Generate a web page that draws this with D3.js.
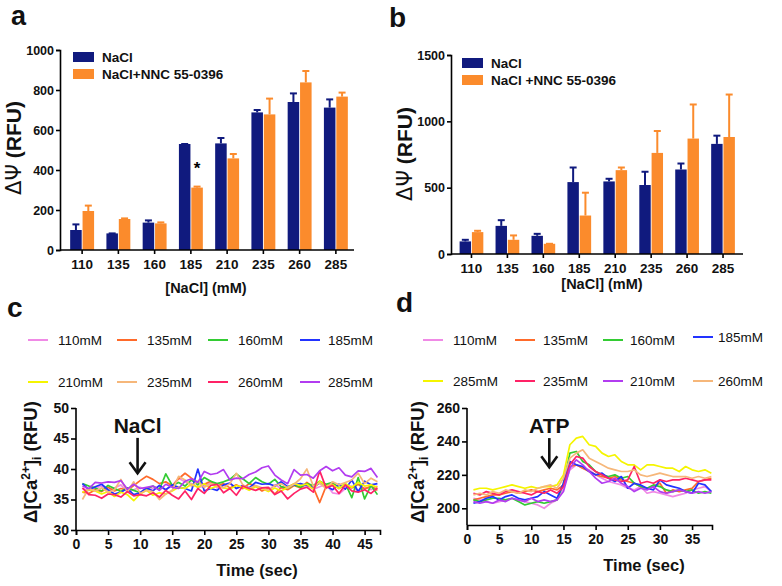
<!DOCTYPE html>
<html><head><meta charset="utf-8">
<script src="https://cdn.jsdelivr.net/npm/d3@7"></script>
<style>
body{margin:0;background:#fff;}
svg{display:block;font-family:"Liberation Sans",Arial,sans-serif;}
</style></head>
<body><svg id="c" width="782" height="586"></svg>
<script>
// ---------- DATA ----------
const categories = ["110","135","160","185","210","235","260","285"];
const seriesNames = ["NaCl","NaCl+NNC 55-0396"];
const seriesNamesB = ["NaCl","NaCl +NNC 55-0396"];
// panel a
const aNaCl     = [100, 83, 137, 530, 533, 688, 740, 712];
const aNaClErr  = [28, 0, 11, 0, 27, 12, 43, 41];
const aNNC      = [195, 155, 133, 312, 458, 678, 838, 767];
const aNNCErr   = [27, 3, 5, 5, 22, 79, 57, 20];
const aTicks = [0, 200, 400, 600, 800, 1000];
// panel b
const bNaCl     = [95, 212, 137, 542, 547, 520, 637, 830];
const bNaClErr  = [12, 43, 15, 110, 20, 100, 45, 62];
const bNNC      = [165, 107, 77, 290, 632, 762, 870, 882];
const bNNCErr   = [10, 33, 0, 172, 20, 165, 257, 320];
const bTicks = [0, 500, 1000, 1500];
// panel c (time 1..47 s)
const cLabels = ["110mM","135mM","160mM","185mM","210mM","235mM","260mM","285mM"];
const cColors = ["#f08ae6","#ff6a2a","#33cc33","#2233ff","#f5f500","#f6b77a","#ff2266","#b23cf0"];
const c110 = [36.8,36.5,36.9,37.2,36.4,36.9,37.4,36.2,36.6,37.0,36.5,36.8,37.1,36.6,37.3,38.5,37.9,37.6,37.0,37.2,37.8,36.9,37.3,37.6,36.9,37.1,36.6,37.2,36.8,36.5,37.4,36.8,37.0,37.6,36.9,37.3,36.7,37.1,37.5,36.1,35.9,36.8,37.2,36.4,37.0,36.6,37.2];
const c135 = [36.2,36.0,36.6,36.3,37.0,36.4,36.8,36.5,37.3,38.1,38.8,38.3,37.6,37.9,37.2,38.4,39.3,38.5,37.8,37.5,38.0,37.2,37.6,36.9,37.4,36.8,37.6,37.2,36.4,36.9,35.9,37.0,36.6,37.3,36.9,37.8,37.0,34.5,37.2,37.6,36.8,37.3,36.9,37.5,36.7,37.2,36.5];
const c160 = [37.6,37.2,36.9,36.4,37.3,36.8,36.3,36.9,36.5,36.1,36.7,37.2,36.6,39.2,37.3,37.8,37.2,38.2,37.4,38.6,38.0,37.6,37.9,38.3,39.2,38.4,37.6,38.6,37.9,37.5,38.3,37.1,36.9,37.4,37.0,37.6,37.3,38.0,37.5,37.8,36.9,37.6,35.3,38.6,35.1,37.3,35.8];
const c185 = [37.6,36.6,37.1,37.5,36.6,35.9,36.2,36.8,35.8,36.1,36.9,36.4,37.3,36.6,37.4,37.0,36.8,36.4,40.0,36.4,36.8,36.5,37.4,37.7,36.8,37.3,36.9,37.8,37.5,37.6,37.2,37.9,37.1,37.4,37.6,37.3,37.0,37.7,37.2,36.6,37.5,36.7,38.2,36.3,38.0,37.4,37.6];
const c210 = [36.2,36.6,36.4,35.9,36.3,35.5,36.2,35.8,34.8,35.9,36.5,35.7,36.1,35.9,36.4,37.0,36.8,37.5,37.0,37.6,36.8,37.2,36.9,36.7,37.3,37.0,36.5,37.1,36.8,36.3,36.9,36.4,37.0,37.6,37.3,37.5,36.7,38.0,37.2,37.4,36.8,37.6,37.0,37.8,37.2,37.4,37.0];
const c235 = [35.0,36.8,36.4,36.9,36.2,36.6,38.3,36.2,37.9,36.0,36.5,36.3,35.0,35.9,36.5,38.8,38.2,37.2,38.0,37.0,37.6,37.3,36.9,37.6,39.3,37.4,36.8,37.3,36.9,36.5,37.3,37.6,36.9,37.5,38.4,40.0,37.2,37.7,36.8,37.9,37.4,37.8,38.2,39.3,37.6,38.5,37.9];
const c260 = [36.9,35.8,35.7,35.2,35.9,35.8,35.4,36.3,35.6,35.8,35.6,36.1,35.4,36.5,35.7,35.1,36.4,35.0,36.8,36.0,37.3,37.5,36.1,36.8,35.7,37.2,36.8,36.5,36.9,37.0,35.8,36.4,35.1,36.0,36.7,37.0,36.2,39.7,36.9,37.3,36.0,37.4,36.4,36.2,36.6,36.0,36.9];
const c285 = [37.2,36.8,37.8,37.7,37.9,37.8,38.1,36.7,37.5,36.8,37.0,37.2,36.5,37.5,37.0,36.8,38.0,38.4,37.8,39.6,39.1,39.3,39.9,38.2,38.5,38.4,39.1,39.5,40.2,40.5,39.0,38.2,37.6,39.9,39.0,39.1,38.5,39.7,40.4,39.7,40.2,39.0,38.7,39.7,39.6,40.1,38.6];
const cSeries = [c110,c135,c160,c185,c210,c235,c260,c285];
const cYTicks = [30,35,40,45,50];
const cXTicks = [0,5,10,15,20,25,30,35,40,45];
const cArrow = {label:"NaCl", t:9.6, from:45.1, to:39.3};
// panel d (time 1..38 s)
const dLabels = ["110mM","135mM","160mM","185mM","285mM","235mM","210mM","260mM"];
const dColors = ["#f08ae6","#ff6a2a","#33cc33","#2233ff","#f5f500","#ff2266","#b23cf0","#f6b77a"];
const d110 = [206,205,204,203,204,205,206,205,204,203,202,200,203,205,212,223,226,224,223,220,218,216,215,214,212,211,213,209,210,209,208,207,208,209,211,212,213,210];
const d135 = [205,206,207,208,208,209,210,209,210,211,210,211,212,211,214,225,226,224,222,220,219,218,219,217,216,215,213,212,213,215,209,211,210,211,212,216,217,218];
const d160 = [205,204,205,206,206,205,206,204,202,203,204,203,204,205,215,233,234,228,226,222,220,219,220,218,219,215,213,212,214,213,211,210,211,210,211,209,210,209];
const d185 = [203,204,206,207,205,207,208,206,205,206,207,210,208,206,215,228,226,225,222,220,221,218,216,219,212,215,214,212,211,217,214,213,212,210,209,215,214,210];
const d285 = [211,212,212,211,212,213,214,213,212,213,212,213,213,214,220,238,242,243,238,237,233,231,232,228,226,226,223,226,226,225,224,224,222,225,223,222,223,221];
const d235 = [209,208,210,209,208,210,211,210,209,208,210,209,211,209,213,226,231,230,225,222,220,218,217,216,217,225,215,216,215,217,216,217,217,218,217,216,217,217];
const d210 = [204,203,204,203,205,204,206,205,204,206,204,205,204,205,210,224,229,226,222,218,215,216,218,215,213,210,212,211,213,210,209,210,211,210,209,210,209,210];
const d260 = [208,209,208,210,209,211,210,209,211,210,212,213,214,212,218,230,233,235,230,228,226,224,223,222,222,223,220,219,220,221,220,219,219,219,218,219,218,219];
const dSeries = [d110,d135,d160,d185,d285,d235,d210,d260];
const dYTicks = [200,220,240,260];
const dXTicks = [0,5,10,15,20,25,30,35];
const dArrow = {label:"ATP", t:12.8, from:242, to:224.6};

// ---------- DRAW ----------
const svg = d3.select("#c");
const NAVY = "#101a7e", ORANGE = "#fb8b2c";
const FONT = "'Liberation Sans', Arial, sans-serif";

function styleAxis(g, size){
  g.selectAll("path.domain").attr("stroke","#000").attr("stroke-width",1.6);
  g.selectAll(".tick line").attr("stroke","#000").attr("stroke-width",1.6);
  g.selectAll(".tick text").attr("font-family",FONT).attr("font-weight","bold")
    .attr("font-size",size).attr("fill","#111");
}

function barPanel(opt){
  const {x0,x1,xr0,xr1,y0,y1,max,ticks,s1,e1,s2,e2,names,legend} = opt;
  const x = d3.scaleBand().domain(categories).range([xr0,xr1]).paddingInner(0.34).paddingOuter(0.17);
  const sub = d3.scaleBand().domain([0,1]).range([0,x.bandwidth()]).paddingInner(0.07);
  const y = d3.scaleLinear().domain([0,max]).range([y0,y1]);
  const g = svg.append("g");
  const series = [{v:s1,e:e1,c:NAVY},{v:s2,e:e2,c:ORANGE}];
  series.forEach((s,si)=>{
    const gg = g.append("g");
    gg.selectAll("line.eb").data(categories).join("line")
      .attr("x1",(d)=>x(d)+sub(si)+sub.bandwidth()/2).attr("x2",(d)=>x(d)+sub(si)+sub.bandwidth()/2)
      .attr("y1",(d,i)=>y(s.v[i])).attr("y2",(d,i)=>y(s.v[i]+s.e[i]))
      .attr("stroke",s.c).attr("stroke-width",2);
    gg.selectAll("line.cap").data(categories).join("line")
      .attr("x1",(d)=>x(d)+sub(si)+sub.bandwidth()/2-3.5).attr("x2",(d)=>x(d)+sub(si)+sub.bandwidth()/2+3.5)
      .attr("y1",(d,i)=>y(s.v[i]+s.e[i])).attr("y2",(d,i)=>y(s.v[i]+s.e[i]))
      .attr("stroke",s.c).attr("stroke-width",2);
    gg.selectAll("rect").data(categories).join("rect")
      .attr("x",d=>x(d)+sub(si)).attr("width",sub.bandwidth())
      .attr("y",(d,i)=>y(s.v[i])).attr("height",(d,i)=>y0-y(s.v[i]))
      .attr("fill",s.c);
  });
  const ya = g.append("g").attr("transform",`translate(${x0},0)`)
    .call(d3.axisLeft(y).tickValues(ticks).tickSize(4).tickPadding(2).tickFormat(d3.format("d")));
  styleAxis(ya,12.5);
  const xa = g.append("g").attr("transform",`translate(0,${y0})`)
    .call(d3.axisBottom(x).tickSize(4).tickPadding(5));
  xa.select("path.domain").attr("d",`M${x0},0H${x1}`);
  styleAxis(xa,13.5);
  names.forEach((n,i)=>{
    g.append("rect").attr("x",legend.x).attr("y",legend.y+i*17).attr("width",21).attr("height",10)
      .attr("fill",i?ORANGE:NAVY);
    g.append("text").attr("x",legend.x+29).attr("y",legend.y+i*17+10).text(n)
      .attr("font-family",FONT).attr("font-weight","bold").attr("font-size",13.5).attr("fill","#111");
  });
  return {x,sub,y,g};
}

const A = barPanel({x0:60,x1:354,xr0:64,xr1:354,y0:250,y1:50,max:1000,ticks:aTicks,
  s1:aNaCl,e1:aNaClErr,s2:aNNC,e2:aNNCErr,names:seriesNames,legend:{x:73,y:52}});
A.g.append("text").attr("x",A.x("185")+A.sub(1)+A.sub.bandwidth()/2)
  .attr("y",A.y(aNNC[3]+aNNCErr[3])-13).attr("text-anchor","middle").text("*")
  .attr("font-family",FONT).attr("font-weight","bold").attr("font-size",17);
barPanel({x0:451,x1:743,xr0:453.5,xr1:741,y0:254,y1:55,max:1500,ticks:bTicks,
  s1:bNaCl,e1:bNaClErr,s2:bNNC,e2:bNNCErr,names:seriesNamesB,legend:{x:462,y:58}});

function text(x,y,t,size,opts={}){
  const el = svg.append("text").attr("x",x).attr("y",y).text(t)
    .attr("font-family",FONT).attr("font-weight",opts.weight||"bold").attr("font-size",size)
    .attr("text-anchor",opts.anchor||"middle").attr("fill","#111");
  return el;
}
text(206,293,"[NaCl] (mM)",14.5);
text(602,289,"[NaCl] (mM)",14.5);
function psiTitle(cx,cy){
  const t = svg.append("text").attr("transform",`translate(${cx},${cy}) rotate(-90)`)
    .attr("text-anchor","middle").attr("font-family",FONT).attr("font-weight","bold")
    .attr("font-size",21).attr("fill","#111");
  t.append("tspan").attr("font-family","'DejaVu Sans'").attr("font-weight","normal").text("ΔΨ");
  t.append("tspan").text(" (RFU)");
}
psiTitle(21,148);
psiTitle(412,154);

text(11,25,"a",27,{anchor:"start"});
text(389,27,"b",28,{anchor:"start"});
text(7,317,"c",28,{anchor:"start"});
text(396,312,"d",28,{anchor:"start"});

function linePanel(opt){
  const {x0,x1,y0,y1,xmax,ymin,ymax,series,colors,labels,xt,yt,arrow,leg} = opt;
  const x = d3.scaleLinear().domain([0,xmax]).range([x0,x1]);
  const y = d3.scaleLinear().domain([ymin,ymax]).range([y0,y1]);
  const g = svg.append("g");
  const line = d3.line().x((d,i)=>x(i+1)).y(d=>y(d));
  series.forEach((s,i)=>{
    g.append("path").attr("d",line(s)).attr("fill","none").attr("stroke",colors[i])
      .attr("stroke-width",1.7).attr("stroke-linejoin","round");
  });
  const ya = g.append("g").attr("transform",`translate(${x0},0)`)
    .call(d3.axisLeft(y).tickValues(yt).tickSize(5).tickPadding(2));
  ya.select("path.domain").attr("d",`M0,${y0}V${y1}`);
  styleAxis(ya,14);
  const xa = g.append("g").attr("transform",`translate(0,${y0})`)
    .call(d3.axisBottom(x).tickValues(xt).tickSize(5).tickPadding(4));
  styleAxis(xa,14);
  const ax = x(arrow.t), ay1 = y(arrow.from), ay2 = y(arrow.to);
  g.append("line").attr("x1",ax).attr("x2",ax).attr("y1",ay1).attr("y2",ay2-1)
    .attr("stroke","#111").attr("stroke-width",2.6);
  g.append("path").attr("d",`M${ax-8},${ay2-11}L${ax},${ay2}L${ax+8},${ay2-11}`)
    .attr("fill","none").attr("stroke","#111").attr("stroke-width",2.6);
  text(ax,ay1-5,arrow.label,21);
  labels.forEach((l,i)=>{
    const col = i%4, row = Math.floor(i/4);
    const lx = leg.lx[col], ly = leg.ly[row] + (leg.dy ? leg.dy[i] : 0);
    g.append("line").attr("x1",lx).attr("x2",lx+20).attr("y1",ly).attr("y2",ly)
      .attr("stroke",colors[i]).attr("stroke-width",2);
    text(leg.tx[col],ly+5,l,13.5,{anchor:"start",weight:"normal"});
  });
  return {x,y};
}
linePanel({x0:76,x1:380,y0:530,y1:408,xmax:47.4,ymin:30,ymax:50,series:cSeries,colors:cColors,
  labels:cLabels,xt:cXTicks,yt:cYTicks,arrow:cArrow,
  leg:{lx:[28,117,208,300],tx:[58,147,238,328],ly:[340,382]}});
linePanel({x0:467,x1:712,y0:525,y1:408,xmax:38.1,ymin:190,ymax:260,series:dSeries,colors:dColors,
  labels:dLabels,xt:dXTicks,yt:dYTicks,arrow:dArrow,
  leg:{lx:[423,515,603,693],tx:[453,543,630,718],ly:[340,381],dy:[0,0,0,-3,0,0,0,0]}});

text(257,576,"Time (sec)",16.5);
text(644,571,"Time (sec)",16.5);
function caTitle(cx,cy){
  const t = svg.append("text").attr("transform",`translate(${cx},${cy}) rotate(-90)`)
    .attr("text-anchor","middle").attr("font-family",FONT).attr("font-weight","bold")
    .attr("font-size",18.5).attr("fill","#111");
  t.append("tspan").text("Δ[Ca");
  t.append("tspan").attr("font-size",12).attr("dy",-7).text("2+");
  t.append("tspan").attr("dy",7).text("]");
  t.append("tspan").attr("font-size",12).attr("dy",4).text("i");
  t.append("tspan").attr("dy",-4).text(" (RFU)");
}
caTitle(37,462);
caTitle(424,462);
</script></body></html>
